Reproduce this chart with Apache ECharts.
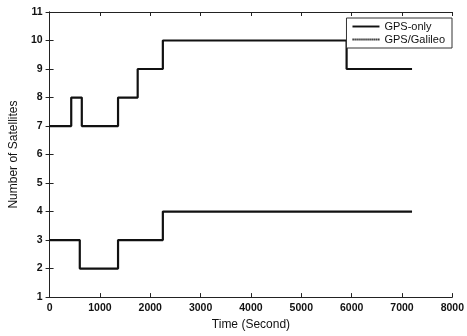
<!DOCTYPE html>
<html><head><meta charset="utf-8">
<script src="https://cdn.jsdelivr.net/npm/echarts@6/dist/echarts.min.js"></script>
<style>html,body{margin:0;padding:0;background:#fff}#c{width:467px;height:336px}</style>
</head><body><div id="c"></div>
<script>
const galileoTimes = [0, 430, 640, 1360, 1750, 2250, 5900, 7200];
const galileoValues = [7, 8, 7, 8, 9, 10, 9, 9];
const gpsTimes = [0, 600, 1360, 2250, 7200];
const gpsValues = [3, 2, 3, 4, 4];
const xTicks = [0, 1000, 2000, 3000, 4000, 5000, 6000, 7000, 8000];
const yTicks = [1, 2, 3, 4, 5, 6, 7, 8, 9, 10, 11];

const font = 'Liberation Sans';
const pair = (t, v) => t.map((x, i) => [x, v[i]]);
const chart = echarts.init(document.getElementById('c'));
const axisCommon = {
  type: 'value', splitLine: {show: false},
  axisLine: {show: true, lineStyle: {color: '#222', width: 1}},
  axisTick: {show: true, inside: true, length: 4, lineStyle: {color: '#222'}}
};
const solidIcon = 'path://M0,0 L28,0 L28,2 L0,2 Z';
let dotted = '';
for (let i = 0; i < 28; i += 2) dotted += 'M' + i + ',0 L' + (i + 1.3) + ',0 L' + (i + 1.3) + ',2 L' + i + ',2 Z ';
const dottedIcon = 'path://' + dotted;
chart.setOption({
  animation: false,
  backgroundColor: '#fff',
  grid: {left: 43, right: 12, top: 12, bottom: 37},
  legend: {
    right: 15, top: 18, orient: 'vertical', itemGap: 2,
    itemWidth: 27, itemHeight: 2,
    borderColor: '#333', borderWidth: 1, padding: [3, 7, 3, 6],
    backgroundColor: '#fff',
    textStyle: {fontFamily: font, fontSize: 11, color: '#111'},
    data: [{name: 'GPS-only', icon: solidIcon}, {name: 'GPS/Galileo', icon: dottedIcon}]
  },
  xAxis: [
    Object.assign({}, axisCommon, {
      min: xTicks[0], max: xTicks[xTicks.length - 1], interval: 1000,
      name: 'Time (Second)', nameLocation: 'middle', nameGap: 21,
      nameTextStyle: {fontFamily: font, fontSize: 12, color: '#111'},
      axisLabel: {fontFamily: font, fontSize: 10.5, fontWeight: 'bold', color: '#111', margin: 6,
        formatter: v => String(v)}
    }),
    Object.assign({}, axisCommon, {
      position: 'top', min: 0, max: 8000, interval: 1000, axisLabel: {show: false}
    })
  ],
  yAxis: [
    Object.assign({}, axisCommon, {
      min: yTicks[0], max: yTicks[yTicks.length - 1], interval: 1,
      name: 'Number of Satellites', nameLocation: 'middle', nameGap: 29,
      nameTextStyle: {fontFamily: font, fontSize: 12, color: '#111'},
      axisLabel: {fontFamily: font, fontSize: 10.5, fontWeight: 'bold', color: '#111', margin: 7,
        formatter: v => String(v)}
    }),
    Object.assign({}, axisCommon, {
      position: 'right', min: 1, max: 11, interval: 1, axisLabel: {show: false}
    })
  ],
  series: [
    {
      name: 'GPS-only', type: 'line', step: 'end', symbol: 'none', showSymbol: false,
      data: pair(gpsTimes, gpsValues),
      lineStyle: {color: '#111', width: 2.2}, itemStyle: {color: '#111'}
    },
    {
      name: 'GPS/Galileo', type: 'line', step: 'end', symbol: 'none', showSymbol: false,
      data: pair(galileoTimes, galileoValues),
      lineStyle: {color: '#111', width: 2.2}, itemStyle: {color: '#111'}
    }
  ]
});
</script></body></html>
